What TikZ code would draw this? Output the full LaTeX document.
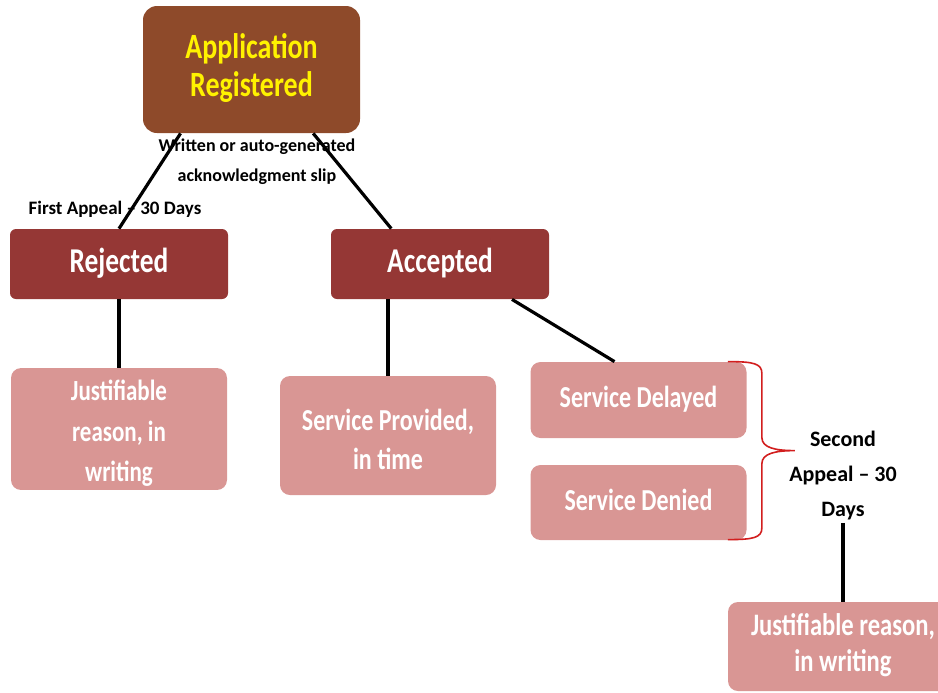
\documentclass[tikz,border=0pt]{standalone}
\usepackage{graphicx}
\usepackage{fontspec}
\setmainfont{Carlito}

\definecolor{appbrown}{RGB}{142,74,42}
\definecolor{decision}{RGB}{149,55,53}
\definecolor{outcome}{RGB}{217,150,148}
\definecolor{bracered}{RGB}{210,30,30}

% tall, narrow box text; optional argument lowers it inside the box
\newcommand\stretched[2][0pt]{\raisebox{#1}[\height][\depth]{\scalebox{1}[1.27]{\begin{tabular}{@{}c@{}}#2\end{tabular}}}}

\begin{document}
\begin{tikzpicture}[x=0.5pt, y=-0.5pt,
    stage/.style={rounded corners=3pt, minimum width=109pt, minimum height=35pt, fill=decision, text=white, inner sep=0pt, font=\bfseries\fontsize{13.7}{16}\selectfont},
    result/.style={rounded corners=5pt, minimum width=108pt, fill=outcome, text=white, inner sep=0pt, font=\bfseries\fontsize{12}{15.4}\selectfont},
    note/.style={align=center, inner sep=1pt, font=\bfseries\fontsize{9}{15}\selectfont},
    link/.style={line width=1.6pt}]

\useasboundingbox (0,0) rectangle (938,692);
\clip (0,0) rectangle (938,692);

% Application at top
\node[rounded corners=7pt, fill=appbrown, text=yellow, minimum width=108.5pt, minimum height=63.5pt, inner sep=0pt, font=\bfseries\fontsize{14}{15}\selectfont] (appreg) at (251.5,69.5) {\stretched{Application\\Registered}};

% Rejected / Accepted
\node[stage] (rejected) at (119,264) {\stretched{Rejected}};
\node[stage] (accepted) at (440,264) {\stretched{Accepted}};

% Outcomes
\node[result, minimum height=60pt, font=\bfseries\fontsize{11.5}{16}\selectfont] (rejreason) at (119,429) {\stretched[-2pt]{Justifiable\\reason, in\\writing}};
\node[result, minimum height=59.5pt] (provided) at (388,435.5) {\stretched[-3.5pt]{Service Provided,\\in time}};
\node[result, minimum height=38pt] (delayed) at (638.5,400) {\stretched{Service Delayed}};
\node[result, minimum height=37.5pt] (denied) at (638.5,502.5) {\stretched{Service Denied}};

% Second appeal and its answer
\node[note, font=\bfseries\fontsize{11}{17.5}\selectfont] (secondappeal) at (843,476) {Second\\Appeal -- 30\\Days};
\node[result, minimum width=115pt, minimum height=44.5pt, font=\bfseries\fontsize{12.3}{14.2}\selectfont] (secreason) at (843,646.5) {\stretched{Justifiable reason,\\in writing}};

% Labels on the first branches
\node[note] (ackslip) at (257,162) {Written or auto-generated\\acknowledgment slip};
\node[note, font=\bfseries\fontsize{9.5}{12}\selectfont] (firstappeal) at (115,209) {First Appeal -- 30 Days};

% Connections
\draw[link] (appreg.222) -- (rejected.north);
\draw[link] (appreg.314) -- (accepted.144);
\draw[link] (rejected) -- (rejreason);
\draw[link] (accepted.south -| provided) -- (provided.north);
\draw[link] ([xshift=36pt]accepted.south) -- ([xshift=-12pt]delayed.north);
\draw[link] (secondappeal) -- (secreason);

% Brace round delayed / denied (units are pixels here)
\draw[bracered, line width=0.8pt] ([xshift=-9.5pt]delayed.north east)
    .. controls +(26,0) and +(0,-10) .. ++(34,12)
    -- ++(0,64)
    .. controls +(0,10) and +(-20,0) .. ++(33,13)
    .. controls +(-20,0) and +(0,-10) .. ++(-33,13)
    -- ++(0,64)
    .. controls +(0,10) and +(26,0) .. ++(-34,12);

\end{tikzpicture}
\end{document}
